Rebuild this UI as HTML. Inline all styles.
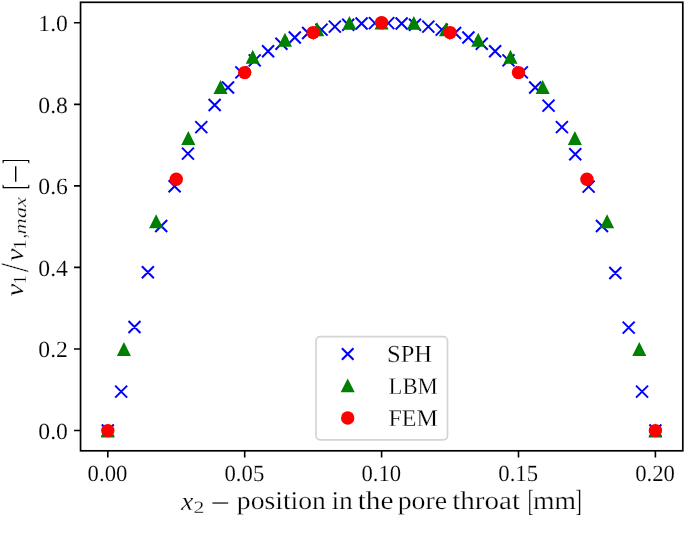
<!DOCTYPE html>
<html lang="en"><head><meta charset="utf-8"><title>Velocity profile in the pore throat</title>
<style>html,body{margin:0;padding:0;background:#fff}svg{display:block}text{font-family:"Liberation Serif",serif;fill:#000;text-rendering:geometricPrecision;stroke:#fff;stroke-width:0.25px;paint-order:fill stroke}.t{font-size:23.2px;stroke-width:0.15px}.l{font-size:25.5px}.i{font-style:italic}.n{stroke:none}</style></head><body>
<svg width="685" height="535" viewBox="0 0 685 535">
<rect width="685" height="535" fill="#fff"/>
<path fill="none" stroke="#0000ff" stroke-width="2" d="M101.80 424.50L113.80 436.50M101.80 436.50L113.80 424.50M115.16 385.60L127.16 397.60M115.16 397.60L127.16 385.60M128.51 321.00L140.51 333.00M128.51 333.00L140.51 321.00M141.87 266.20L153.87 278.20M141.87 278.20L153.87 266.20M155.22 220.00L167.22 232.00M155.22 232.00L167.22 220.00M168.58 180.20L180.58 192.20M168.58 192.20L180.58 180.20M181.94 147.60L193.94 159.60M181.94 159.60L193.94 147.60M195.29 121.10L207.29 133.10M195.29 133.10L207.29 121.10M208.65 99.00L220.65 111.00M208.65 111.00L220.65 99.00M222.00 81.50L234.00 93.50M222.00 93.50L234.00 81.50M235.36 66.40L247.36 78.40M235.36 78.40L247.36 66.40M248.72 54.40L260.72 66.40M248.72 66.40L260.72 54.40M262.07 45.20L274.07 57.20M262.07 57.20L274.07 45.20M275.43 37.80L287.43 49.80M275.43 49.80L287.43 37.80M288.79 31.50L300.79 43.50M288.79 43.50L300.79 31.50M302.14 27.00L314.14 39.00M302.14 39.00L314.14 27.00M315.50 23.60L327.50 35.60M315.50 35.60L327.50 23.60M328.85 20.60L340.85 32.60M328.85 32.60L340.85 20.60M342.21 18.70L354.21 30.70M342.21 30.70L354.21 18.70M355.57 17.50L367.57 29.50M355.57 29.50L367.57 17.50M368.92 17.10L380.92 29.10M368.92 29.10L380.92 17.10M382.28 17.10L394.28 29.10M382.28 29.10L394.28 17.10M395.63 17.50L407.63 29.50M395.63 29.50L407.63 17.50M408.99 18.70L420.99 30.70M408.99 30.70L420.99 18.70M422.35 20.60L434.35 32.60M422.35 32.60L434.35 20.60M435.70 23.60L447.70 35.60M435.70 35.60L447.70 23.60M449.06 27.00L461.06 39.00M449.06 39.00L461.06 27.00M462.41 31.50L474.41 43.50M462.41 43.50L474.41 31.50M475.77 37.80L487.77 49.80M475.77 49.80L487.77 37.80M489.13 45.20L501.13 57.20M489.13 57.20L501.13 45.20M502.48 54.40L514.48 66.40M502.48 66.40L514.48 54.40M515.84 66.40L527.84 78.40M515.84 78.40L527.84 66.40M529.20 81.50L541.20 93.50M529.20 93.50L541.20 81.50M542.55 99.60L554.55 111.60M542.55 111.60L554.55 99.60M555.91 121.10L567.91 133.10M555.91 133.10L567.91 121.10M569.26 148.30L581.26 160.30M569.26 160.30L581.26 148.30M582.62 180.60L594.62 192.60M582.62 192.60L594.62 180.60M595.98 220.00L607.98 232.00M595.98 232.00L607.98 220.00M609.33 267.00L621.33 279.00M609.33 279.00L621.33 267.00M622.69 321.60L634.69 333.60M622.69 333.60L634.69 321.60M636.04 385.60L648.04 397.60M636.04 397.60L648.04 385.60M649.40 424.50L661.40 436.50M649.40 436.50L661.40 424.50"/>
<path fill="#008000" d="M107.80 423.55L100.75 437.45L114.85 437.45ZM123.91 342.05L116.86 355.95L130.96 355.95ZM156.12 214.25L149.07 228.15L163.17 228.15ZM188.33 131.05L181.28 144.95L195.38 144.95ZM220.54 80.05L213.49 93.95L227.59 93.95ZM252.75 49.85L245.70 63.75L259.80 63.75ZM284.96 32.75L277.91 46.65L292.01 46.65ZM317.18 22.35L310.13 36.25L324.23 36.25ZM349.39 15.95L342.34 29.85L356.44 29.85ZM381.60 15.65L374.55 29.55L388.65 29.55ZM413.81 15.95L406.76 29.85L420.86 29.85ZM446.02 22.35L438.97 36.25L453.07 36.25ZM478.24 32.75L471.19 46.65L485.29 46.65ZM510.45 49.85L503.40 63.75L517.50 63.75ZM542.66 80.05L535.61 93.95L549.71 93.95ZM574.87 131.05L567.82 144.95L581.92 144.95ZM607.08 214.25L600.03 228.15L614.13 228.15ZM639.29 342.05L632.24 355.95L646.34 355.95ZM655.40 423.55L648.35 437.45L662.45 437.45Z"/>
<g fill="#ff0000"><circle cx="107.80" cy="430.60" r="6.7"/><circle cx="176.25" cy="179.25" r="6.7"/><circle cx="244.70" cy="72.60" r="6.7"/><circle cx="313.15" cy="32.60" r="6.7"/><circle cx="381.60" cy="22.60" r="6.7"/><circle cx="450.05" cy="32.60" r="6.7"/><circle cx="518.50" cy="72.60" r="6.7"/><circle cx="586.95" cy="179.25" r="6.7"/><circle cx="655.40" cy="430.60" r="6.7"/></g>
<rect x="80.55" y="2.3" width="602.25" height="448.5" fill="none" stroke="#000" stroke-width="1.7"/>
<path d="M107.80 450.8V457.5M244.70 450.8V457.5M381.60 450.8V457.5M518.50 450.8V457.5M655.40 450.8V457.5M80.55 430.50H74.0M80.55 348.96H74.0M80.55 267.42H74.0M80.55 185.88H74.0M80.55 104.34H74.0M80.55 22.80H74.0" stroke="#000" stroke-width="1.6" fill="none"/>
<text class="t" x="107.50" y="481.1" text-anchor="middle" textLength="39.8" lengthAdjust="spacingAndGlyphs">0.00</text>
<text class="t" x="244.40" y="481.1" text-anchor="middle" textLength="39.8" lengthAdjust="spacingAndGlyphs">0.05</text>
<text class="t" x="381.30" y="481.1" text-anchor="middle" textLength="39.8" lengthAdjust="spacingAndGlyphs">0.10</text>
<text class="t" x="518.20" y="481.1" text-anchor="middle" textLength="39.8" lengthAdjust="spacingAndGlyphs">0.15</text>
<text class="t" x="655.10" y="481.1" text-anchor="middle" textLength="39.8" lengthAdjust="spacingAndGlyphs">0.20</text>
<text class="t" x="67.9" y="438.90" text-anchor="end" textLength="29.6" lengthAdjust="spacingAndGlyphs">0.0</text>
<text class="t" x="67.9" y="357.36" text-anchor="end" textLength="29.6" lengthAdjust="spacingAndGlyphs">0.2</text>
<text class="t" x="67.9" y="275.82" text-anchor="end" textLength="29.6" lengthAdjust="spacingAndGlyphs">0.4</text>
<text class="t" x="67.9" y="194.28" text-anchor="end" textLength="29.6" lengthAdjust="spacingAndGlyphs">0.6</text>
<text class="t" x="67.9" y="112.74" text-anchor="end" textLength="29.6" lengthAdjust="spacingAndGlyphs">0.8</text>
<text class="t" x="67.9" y="31.20" text-anchor="end" textLength="29.6" lengthAdjust="spacingAndGlyphs">1.0</text>
<g>
<text class="i" transform="translate(180.98 509.50) scale(1.0684 1.0117)" font-size="26">x</text>
<text transform="translate(193.43 512.90) scale(1.2794 1.0160)" font-size="17">2</text>
<text class="n" transform="translate(210.71 511.04) scale(1.3011 0.9231)" font-size="26">−</text>
<text transform="translate(236.85 509.40) scale(1.0717 1.0000)" font-size="25.8">position</text>
<text transform="translate(331.45 509.40) scale(1.0685 1.0000)" font-size="25.8">in</text>
<text transform="translate(357.71 509.40) scale(1.1365 1.0000)" font-size="25.8">the</text>
<text transform="translate(397.64 509.40) scale(1.0772 1.0000)" font-size="25.8">pore</text>
<text transform="translate(452.21 509.40) scale(1.1277 1.0000)" font-size="25.8">throat</text>
<text transform="translate(527.68 511.40) scale(0.6689 1.1820)" font-size="26">[</text>
<text transform="translate(532.95 509.40) scale(1.0710 1.0000)" font-size="25.8">mm</text>
<text transform="translate(575.45 511.40) scale(0.7168 1.1820)" font-size="26">]</text>
</g>
<g transform="translate(0 296) rotate(-90)">
<text class="i" transform="translate(-0.48 22.54) scale(1.1081 0.9820)" font-size="26">v</text>
<text transform="translate(11.48 26.20) scale(1.1261 1.1052)" font-size="17">1</text>
<text transform="translate(23.70 28.40) scale(1.2775 1.5442)" font-size="26">/</text>
<text class="i" transform="translate(34.73 22.54) scale(1.0989 0.9820)" font-size="26">v</text>
<text transform="translate(46.27 26.20) scale(1.1933 1.1052)" font-size="17">1</text>
<text transform="translate(57.81 26.14) scale(1.0196 1.3176)" font-size="17">,</text>
<text class="i" transform="translate(61.50 26.03) scale(1.3253 1.0172)" font-size="17">max</text>
<text class="n" transform="translate(106.67 24.70) scale(0.5686 1.2430)" font-size="26">[</text>
<text class="n" transform="translate(112.53 24.68) scale(1.2848 1.0769)" font-size="26">−</text>
<text class="n" transform="translate(132.32 24.70) scale(0.5594 1.2430)" font-size="26">]</text>
</g>
<rect x="316.0" y="336.6" width="131.5" height="103.2" rx="4.2" ry="4.2" fill="#fff" fill-opacity="0.8" stroke="#d4d4d4" stroke-width="1.7"/>
<path fill="none" stroke="#0000ff" stroke-width="2.1" d="M341.90 348.20L353.50 359.80M341.90 359.80L353.50 348.20"/>
<path fill="#008000" d="M347.70 378.45L340.65 392.35L354.75 392.35Z"/>
<circle cx="347.7" cy="418" r="6.7" fill="#ff0000"/>
<text transform="translate(386.98 361.96) scale(1.0670 1.0642)" font-size="23">SPH</text>
<text transform="translate(388.52 394.40) scale(0.9891 1.0368)" font-size="23">LBM</text>
<text transform="translate(388.48 426.30) scale(1.0435 1.0435)" font-size="23">FEM</text>
</svg></body></html>
